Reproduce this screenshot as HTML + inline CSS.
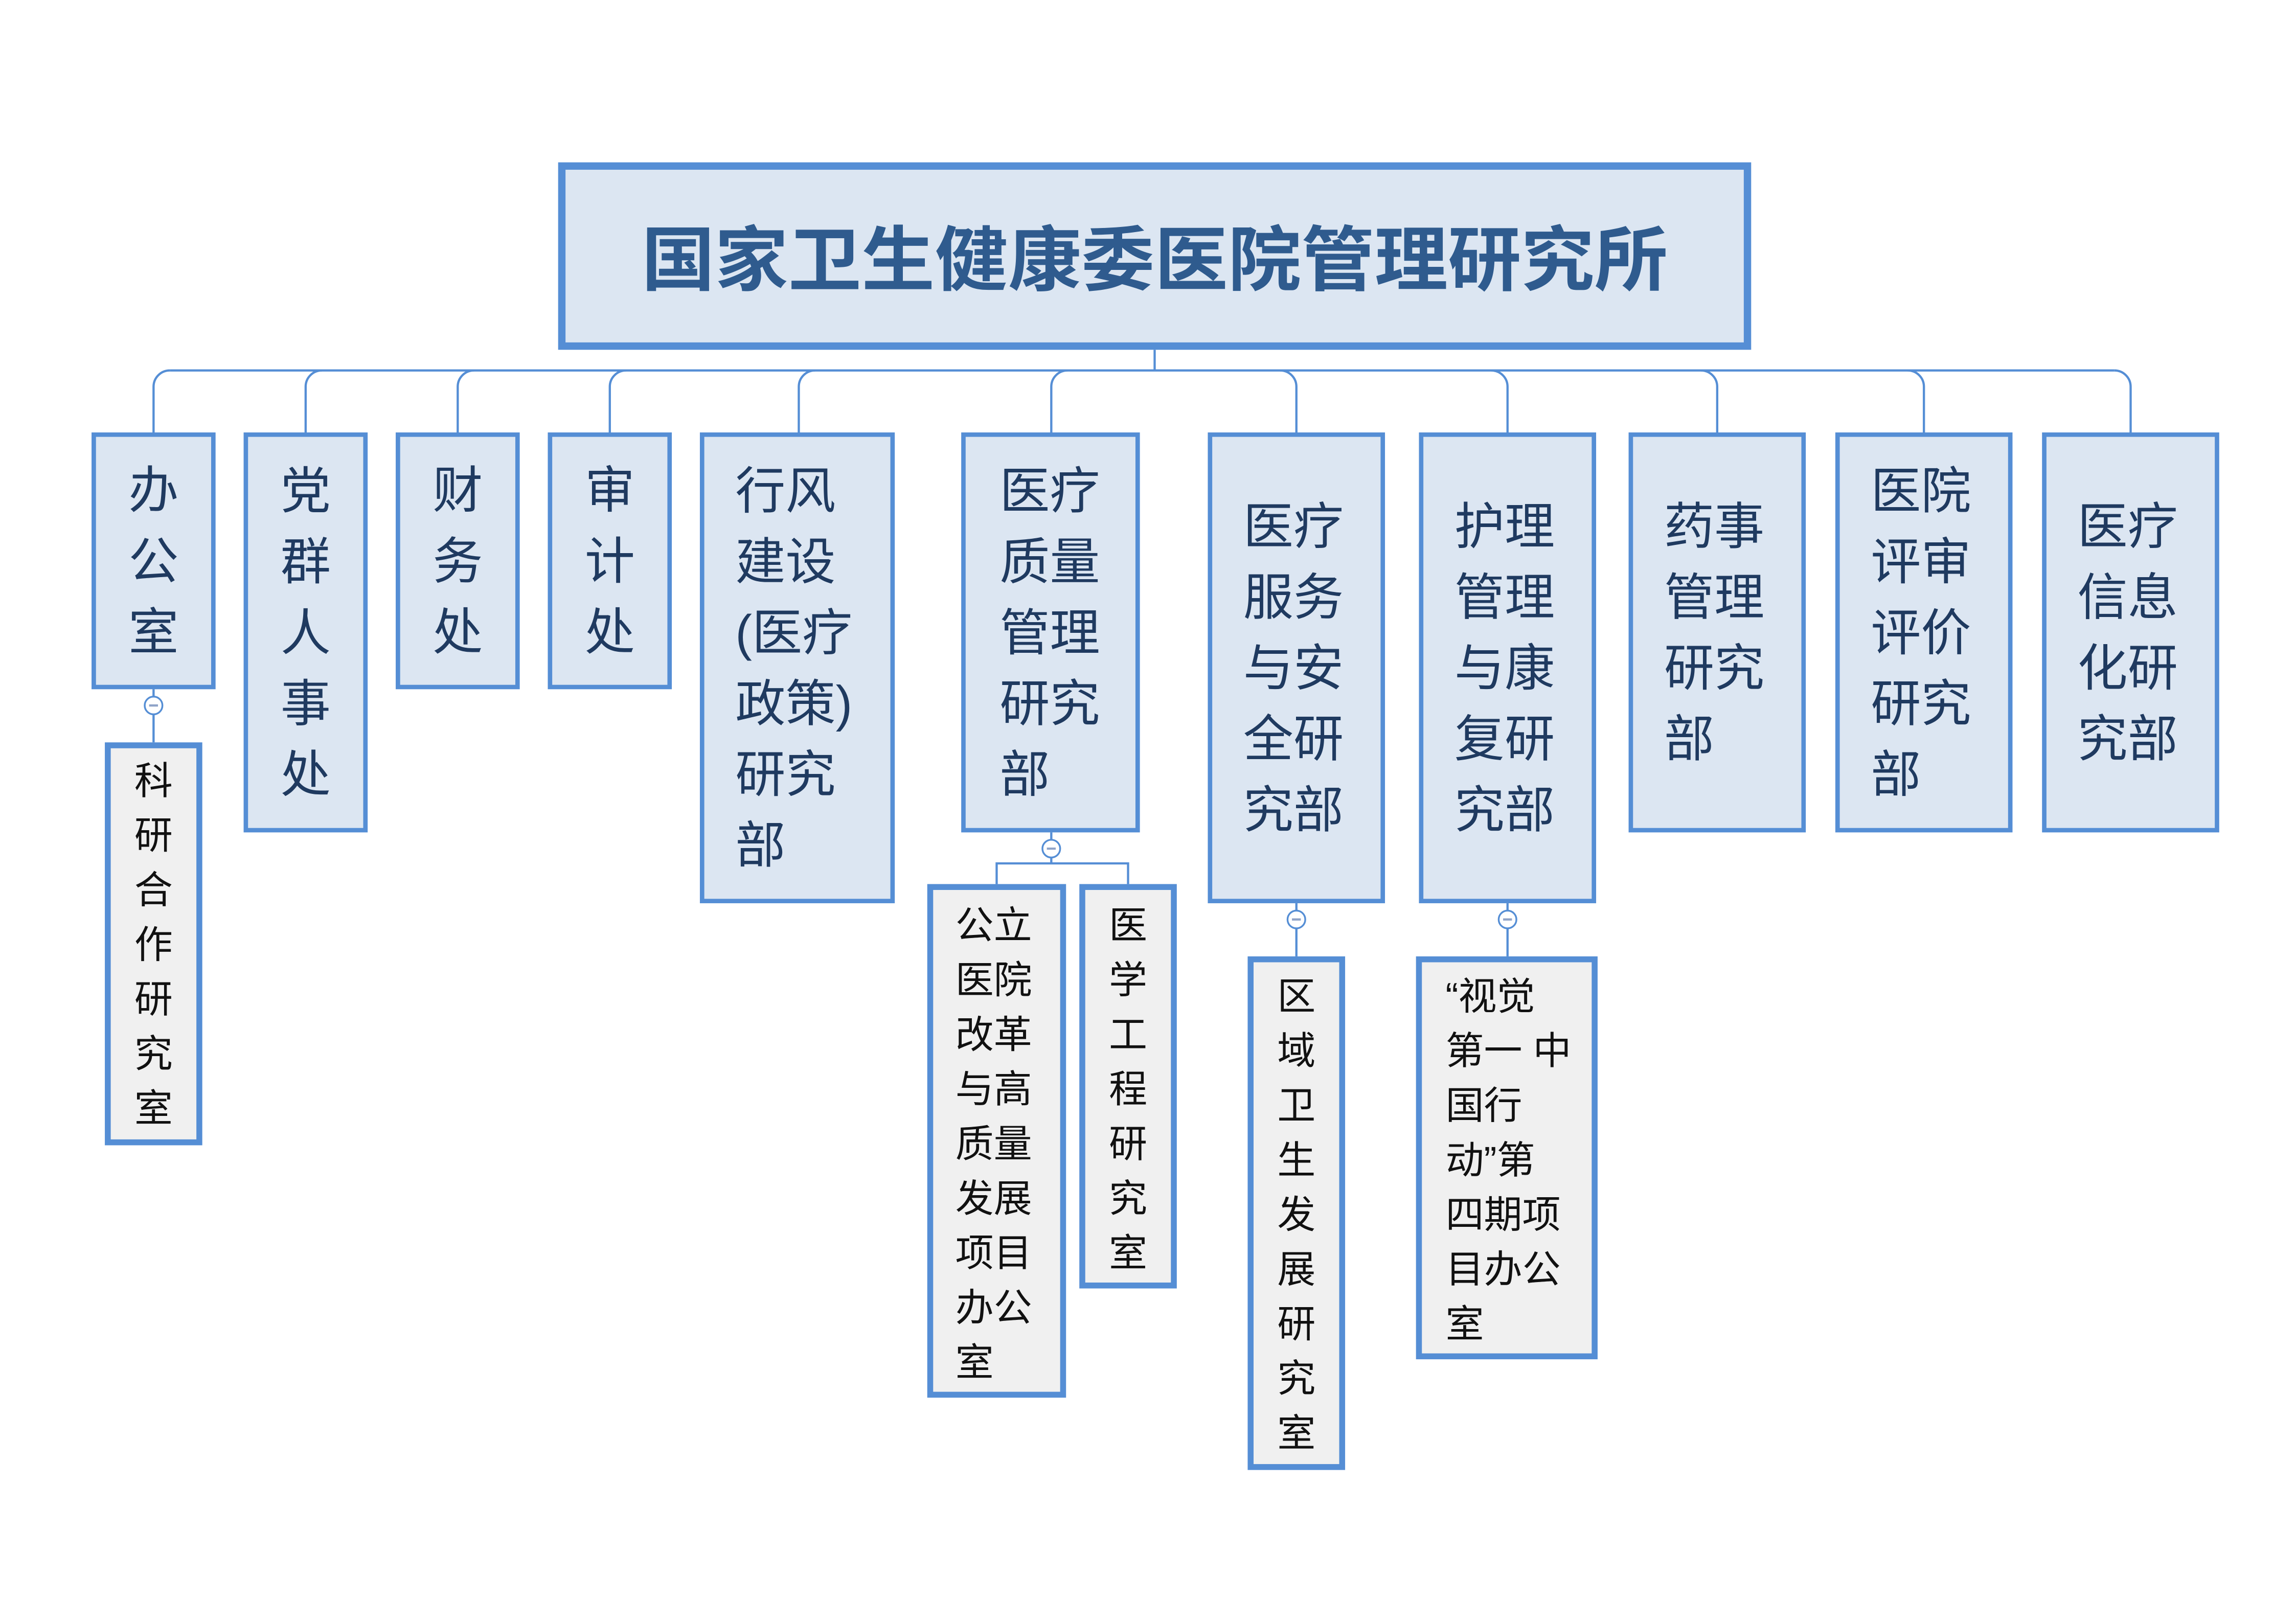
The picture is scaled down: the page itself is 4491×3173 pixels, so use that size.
<!DOCTYPE html>
<html><head><meta charset="utf-8">
<style>
html,body{margin:0;padding:0;background:#fff;}
svg{display:block;}
text{font-family:"Liberation Sans","Noto Sans CJK SC",sans-serif;}
.l1{font-size:34px;fill:#1f3a60;}
.l2{font-size:26px;fill:#111;}
</style></head>
<body>
<svg width="4491" height="3173" viewBox="0 0 1555 1099" preserveAspectRatio="none" xmlns="http://www.w3.org/2000/svg">
<rect width="1555" height="1099" fill="#fff"/>
<g fill="none" stroke="#558ed5" stroke-width="1.5">
<line x1="782" y1="237" x2="782" y2="251"/>
<line x1="115" y1="251" x2="1432" y2="251"/>
<path d="M104 293V262A11 11 0 0 1 115 251"/>
<path d="M207 293V262A11 11 0 0 1 218 251"/>
<path d="M310 293V262A11 11 0 0 1 321 251"/>
<path d="M413 293V262A11 11 0 0 1 424 251"/>
<path d="M541 293V262A11 11 0 0 1 552 251"/>
<path d="M712 293V262A11 11 0 0 1 723 251"/>
<path d="M878 293V262A11 11 0 0 0 867 251"/>
<path d="M1021 293V262A11 11 0 0 0 1010 251"/>
<path d="M1163 293V262A11 11 0 0 0 1152 251"/>
<path d="M1303 293V262A11 11 0 0 0 1292 251"/>
<path d="M1432 251A11 11 0 0 1 1443 262V293"/>
<line x1="104" y1="467" x2="104" y2="503"/>
<line x1="712" y1="564" x2="712" y2="585"/>
<path d="M675 599V585H764V599"/>
<line x1="878" y1="612" x2="878" y2="648"/>
<line x1="1021" y1="612" x2="1021" y2="648"/>
</g>
<!-- title -->
<rect x="380.5" y="112.5" width="803" height="122" fill="#dce6f2" stroke="#558ed5" stroke-width="5"/>
<text x="782" y="193" text-anchor="middle" font-size="48" font-weight="bold" fill="#2f5b8e" textLength="695" lengthAdjust="spacingAndGlyphs">国家卫生健康委医院管理研究所</text>
<!-- level1 boxes -->
<g fill="#dce6f2" stroke="#558ed5" stroke-width="3">
<rect x="63.5" y="294.5" width="81" height="171"/>
<rect x="166.5" y="294.5" width="81" height="268"/>
<rect x="269.5" y="294.5" width="81" height="171"/>
<rect x="372.5" y="294.5" width="81" height="171"/>
<rect x="475.5" y="294.5" width="129" height="316"/>
<rect x="652.5" y="294.5" width="118" height="268"/>
<rect x="819.5" y="294.5" width="117" height="316"/>
<rect x="962.5" y="294.5" width="117" height="316"/>
<rect x="1104.5" y="294.5" width="117" height="268"/>
<rect x="1244.5" y="294.5" width="117" height="268"/>
<rect x="1384.5" y="294.5" width="117" height="268"/>
</g>
<g fill="#f0f0f0" stroke="#558ed5" stroke-width="4">
<rect x="73" y="505" width="62" height="269"/>
<rect x="630" y="601" width="90" height="344"/>
<rect x="733" y="601" width="62" height="270"/>
<rect x="847" y="650" width="62" height="344"/>
<rect x="961" y="650" width="119" height="269"/>
</g>
<!-- collapse circles -->
<g fill="#fff" stroke="#558ed5" stroke-width="1.2">
<circle cx="104" cy="478" r="6"/><circle cx="712" cy="575" r="6"/>
<circle cx="878" cy="623" r="6"/><circle cx="1021" cy="623" r="6"/>
</g>
<g stroke="#8fa3c8" stroke-width="1.5">
<line x1="101" y1="478" x2="107" y2="478"/><line x1="709" y1="575" x2="715" y2="575"/>
<line x1="875" y1="623" x2="881" y2="623"/><line x1="1018" y1="623" x2="1024" y2="623"/>
</g>
<!-- level1 text -->
<g class="l1" text-anchor="middle">
<text x="104" y="344">办</text><text x="104" y="392">公</text><text x="104" y="440">室</text>
<text x="207" y="344.5">党</text><text x="207" y="392.5">群</text><text x="207" y="440.5">人</text><text x="207" y="488.5">事</text><text x="207" y="536.5">处</text>
<text x="310" y="344">财</text><text x="310" y="392">务</text><text x="310" y="440">处</text>
<text x="413" y="344">审</text><text x="413" y="392">计</text><text x="413" y="440">处</text>
</g>
<g class="l1">
<text x="498" y="344.5">行风</text><text x="498" y="392.5">建设</text><text x="498" y="440.5">(医疗</text><text x="498" y="488.5">政策)</text><text x="498" y="536.5">研究</text><text x="498" y="584.5">部</text>
<text x="677" y="344.5">医疗</text><text x="677" y="392.5">质量</text><text x="677" y="440.5">管理</text><text x="677" y="488.5">研究</text><text x="677" y="536.5">部</text>
<text x="842" y="368.5">医疗</text><text x="842" y="416.5">服务</text><text x="842" y="464.5">与安</text><text x="842" y="512.5">全研</text><text x="842" y="560.5">究部</text>
<text x="985" y="368.5">护理</text><text x="985" y="416.5">管理</text><text x="985" y="464.5">与康</text><text x="985" y="512.5">复研</text><text x="985" y="560.5">究部</text>
<text x="1127" y="368.5">药事</text><text x="1127" y="416.5">管理</text><text x="1127" y="464.5">研究</text><text x="1127" y="512.5">部</text>
<text x="1267" y="344.5">医院</text><text x="1267" y="392.5">评审</text><text x="1267" y="440.5">评价</text><text x="1267" y="488.5">研究</text><text x="1267" y="536.5">部</text>
<text x="1407" y="368.5">医疗</text><text x="1407" y="416.5">信息</text><text x="1407" y="464.5">化研</text><text x="1407" y="512.5">究部</text>
</g>
<!-- level2 text -->
<g class="l2" text-anchor="middle">
<text x="104" y="538">科</text><text x="104" y="575">研</text><text x="104" y="612">合</text><text x="104" y="649">作</text><text x="104" y="686">研</text><text x="104" y="723">究</text><text x="104" y="760">室</text>
<text x="764" y="636">医</text><text x="764" y="673">学</text><text x="764" y="710">工</text><text x="764" y="747">程</text><text x="764" y="784">研</text><text x="764" y="821">究</text><text x="764" y="858">室</text>
<text x="878" y="684">区</text><text x="878" y="721">域</text><text x="878" y="758">卫</text><text x="878" y="795">生</text><text x="878" y="832">发</text><text x="878" y="869">展</text><text x="878" y="906">研</text><text x="878" y="943">究</text><text x="878" y="980">室</text>
</g>
<g class="l2">
<text x="647" y="636">公立</text><text x="647" y="673">医院</text><text x="647" y="710">改革</text><text x="647" y="747">与高</text><text x="647" y="784">质量</text><text x="647" y="821">发展</text><text x="647" y="858">项目</text><text x="647" y="895">办公</text><text x="647" y="932">室</text>
<text x="979" y="684">“视觉</text><text x="979" y="721">第一 中</text><text x="979" y="758">国行</text><text x="979" y="795">动”第</text><text x="979" y="832">四期项</text><text x="979" y="869">目办公</text><text x="979" y="906">室</text>
</g>
</svg>
</body></html>
